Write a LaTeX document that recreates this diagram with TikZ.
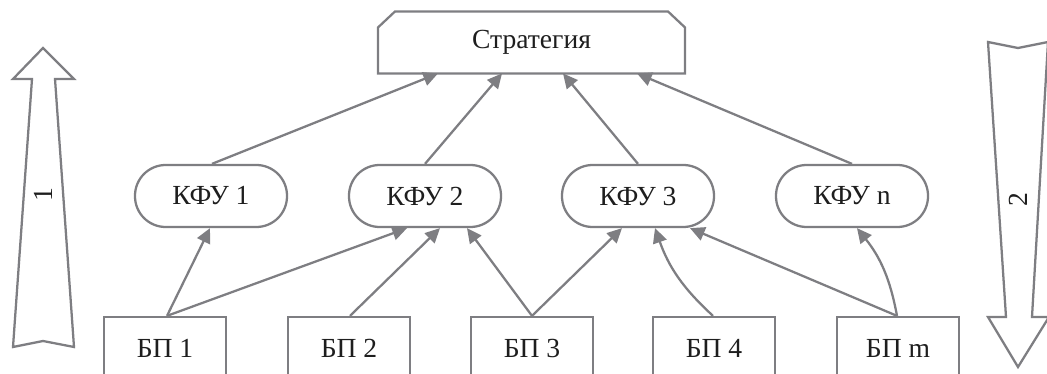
\documentclass[tikz,border=0pt]{standalone}
\usepackage{fontspec}
\setmainfont{Liberation Serif}
\usetikzlibrary{arrows.meta,calc}
\definecolor{lc}{RGB}{126,126,130}
\definecolor{tc}{RGB}{30,30,30}
\begin{document}
\begin{tikzpicture}[x=0.75pt,y=-0.75pt,
  every node/.style={font=\fontsize{20.7}{24}\selectfont, text=tc},
  kfu/.style={draw=lc, line width=1.7pt, rounded corners=23pt, minimum width=114pt, minimum height=46.5pt, fill=white},
  bp/.style={draw=lc, line width=1.7pt, minimum width=92pt, minimum height=46.5pt, fill=white},
  con/.style={draw=lc, line width=1.7pt, -{Triangle[length=11pt,width=10.5pt]}},
  big/.style={draw=lc, line width=1.7pt, line join=miter, fill=white}]
\useasboundingbox (0,0) rectangle (1047,374);
\clip (0,0) rectangle (1047,374);
% strategy box
\node[minimum width=230pt, minimum height=46pt, inner sep=0pt] (S) at (531.5,42.5) {Стратегия};
\draw[draw=lc, line width=1.7pt] (S.south west) -- ([yshift=-12pt]S.north west) -- ([xshift=12.75pt]S.north west)
  -- ([xshift=-12.75pt]S.north east) -- ([yshift=-12pt]S.north east) -- (S.south east) -- cycle;
% KFU nodes
\node[kfu] (K1) at (211,196) {КФУ 1};
\node[kfu] (K2) at (425,196) {КФУ 2};
\node[kfu] (K3) at (638,196) {КФУ 3};
\node[kfu] (Kn) at (852,196) {КФУ n};
% BP nodes
\node[bp] (B1) at (165,348) {БП 1};
\node[bp] (B2) at (349,348) {БП 2};
\node[bp] (B3) at (532,348) {БП 3};
\node[bp] (B4) at (714,348) {БП 4};
\node[bp] (Bm) at (898,348) {БП m};
% upper connectors
\draw[con] ($(K1.north)+(1,0)$) -- ($(S.south)+(-93.5,0)$);
\draw[con] (K2.north) -- ($(S.south)+(-29.5,0)$);
\draw[con] (K3.north) -- ($(S.south)+(31.5,0)$);
\draw[con] (Kn.north) -- ($(S.south)+(105.5,0)$);
% lower connectors
\draw[con] ($(B1.north)+(2,0)$) -- ($(K1.south)+(-1,0)$);
\draw[con] ($(B1.north)+(2,0)$) -- ($(K2.south)+(-18,0)$);
\draw[con] ($(B2.north)+(1,0)$) -- ($(K2.south)+(15,0)$);
\draw[con] (B3.north) -- ($(K2.south)+(42,0)$);
\draw[con] (B3.north) -- ($(K3.south)+(-16,0)$);
\draw[con] ($(B4.north)+(-1,0)$) to[bend left=14] ($(K3.south)+(17,0)$);
\draw[con] ($(Bm.north)+(-1,0)$) -- ($(K3.south)+(52,0)$);
\draw[con] ($(Bm.north)+(-1,0)$) to[bend right=14] ($(Kn.south)+(5,0)$);
% big arrows
\draw[big] (43,48) -- (74,79) -- (55,79) -- (74,347) -- (43,341) -- (13,347) -- (32,79) -- (13,79) -- cycle;
\node[rotate=90] (L1) at (43,195) {1};
\draw[big] (988,42) -- (1018,48) -- (1048,42) -- (1032,317) -- (1049,317) -- (1018,367) -- (988,317) -- (1006,317) -- cycle;
\node[rotate=90] (L2) at (1018,200) {2};
\end{tikzpicture}
\end{document}
